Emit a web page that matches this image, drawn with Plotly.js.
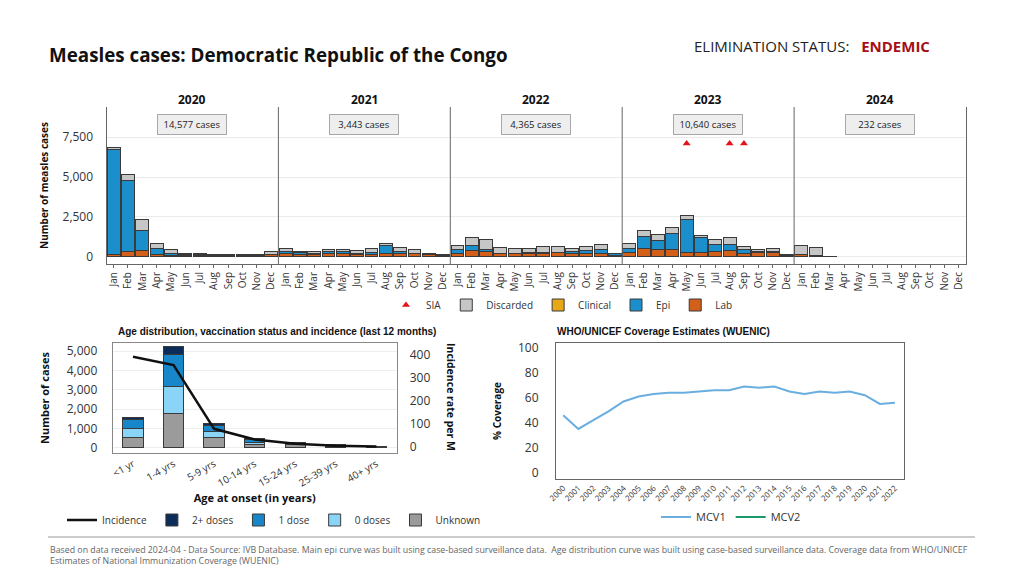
<!DOCTYPE html>
<html><head><meta charset="utf-8">
<script src="https://cdn.plot.ly/plotly-3.0.1.min.js"></script>
<style>html,body{margin:0;padding:0;background:#fff}#chart{width:1024px;height:576px}</style>
</head><body><div id="chart"></div>
<script>
// ---------- DATA ----------
const monthNames = ['Jan','Feb','Mar','Apr','May','Jun','Jul','Aug','Sep','Oct','Nov','Dec'];
const years = [2020, 2021, 2022, 2023, 2024];
const yearTotals = ['14,577 cases', '3,443 cases', '4,365 cases', '10,640 cases', '232 cases'];

const labCases = [
  150,320,380,150,100,100,100,70,70,70,80,130,
  170,150,150,170,170,150,150,170,170,170,130,100,
  230,380,320,190,170,210,230,275,210,210,210,100,
  275,530,445,445,275,275,340,400,190,255,275,80,
  140,60,32,null,null,null,null,null,null,null,null,null];
const clinicalCases = [
  0,0,0,0,0,0,0,0,0,0,0,0,
  0,0,0,0,0,0,0,0,0,0,0,0,
  0,0,0,0,0,0,0,0,0,0,0,0,
  0,0,0,0,0,0,0,0,0,0,0,0,
  0,0,0,null,null,null,null,null,null,null,null,null];
const epiCases = [
  6570,4490,1295,380,110,20,10,0,0,0,0,20,
  150,100,60,150,130,60,125,510,170,40,0,0,
  240,300,150,40,30,30,20,15,90,190,260,70,
  235,760,575,995,2055,915,445,385,280,45,20,10,
  0,0,0,null,null,null,null,null,null,null,null,null];
const discardedCases = [
  130,360,635,320,260,110,100,80,80,80,70,150,
  190,90,130,125,125,190,255,170,255,260,80,50,
  250,530,590,320,310,250,365,325,230,260,290,60,
  295,385,400,405,260,170,315,425,190,145,235,50,
  580,490,0,null,null,null,null,null,null,null,null,null];
const siaMonths = ['2023-05', '2023-08', '2023-09'];
const siaLevel = [7100, 7100, 7100];

const ageGroups = ['<1 yr','1-4 yrs','5-9 yrs','10-14 yrs','15-24 yrs','25-39 yrs','40+ yrs'];
const ageUnknown = [520,1760,550,190,140,85,40];
const ageZeroDoses = [480,1380,310,85,30,10,5];
const ageOneDose = [480,1670,295,125,105,30,10];
const ageTwoPlus = [90,400,120,50,15,15,5];
const incidencePerM = [391,355,79,33,14,6,2];

const wuenicYears = [2000,2001,2002,2003,2004,2005,2006,2007,2008,2009,2010,2011,2012,2013,2014,2015,2016,2017,2018,2019,2020,2021,2022];
const mcv1 = [46,35,42,49,57,61,63,64,64,65,66,66,69,68,69,65,63,65,64,65,62,55,56];
const mcv2 = wuenicYears.map(() => null);

// ---------- BUILD ----------
const F = 'Open Sans, Noto Sans, sans-serif';
const A = 'Liberation Sans, Arial, sans-serif';
const monthIdx = labCases.map((_, i) => i);
const monthText = monthIdx.map(i => monthNames[i % 12]);
const siaIdx = siaMonths.map(s => {
  const [y, m] = s.split('-').map(Number);
  return years.indexOf(y) * 12 + (m - 1);
});
const barLine = {color: '#3a3a3a', width: 1};

const traces = [
  {type:'bar', name:'Lab', x: monthIdx, y: labCases, width: 0.9, marker:{color:'#d2601a', line: barLine},
   xaxis:'x', yaxis:'y', legend:'legend', legendrank: 5},
  {type:'bar', name:'Clinical', x: monthIdx, y: clinicalCases, width: 0.9, marker:{color:'#e6a817', line: barLine},
   xaxis:'x', yaxis:'y', legend:'legend', legendrank: 3},
  {type:'bar', name:'Epi', x: monthIdx, y: epiCases, width: 0.9, marker:{color:'#1a8fcc', line: barLine},
   xaxis:'x', yaxis:'y', legend:'legend', legendrank: 4},
  {type:'bar', name:'Discarded', x: monthIdx, y: discardedCases, width: 0.9, marker:{color:'#c6c6c6', line: barLine},
   xaxis:'x', yaxis:'y', legend:'legend', legendrank: 2},
  {type:'scatter', mode:'markers', name:'SIA', x: siaIdx, y: siaLevel,
   marker:{symbol:'triangle-up', size:7, color:'#e3141b'}, xaxis:'x', yaxis:'y', legend:'legend', legendrank: 1},

  {type:'bar', name:'Unknown', x: ageGroups, y: ageUnknown, width: 0.5, marker:{color:'#9b9b9b', line: barLine},
   xaxis:'x2', yaxis:'y2', legend:'legend2', legendrank: 5},
  {type:'bar', name:'0 doses', x: ageGroups, y: ageZeroDoses, width: 0.5, marker:{color:'#8ad4f8', line: barLine},
   xaxis:'x2', yaxis:'y2', legend:'legend2', legendrank: 4},
  {type:'bar', name:'1 dose', x: ageGroups, y: ageOneDose, width: 0.5, marker:{color:'#1787c9', line: barLine},
   xaxis:'x2', yaxis:'y2', legend:'legend2', legendrank: 3},
  {type:'bar', name:'2+ doses', x: ageGroups, y: ageTwoPlus, width: 0.5, marker:{color:'#0c2d5a', line: barLine},
   xaxis:'x2', yaxis:'y2', legend:'legend2', legendrank: 2},
  {type:'scatter', mode:'lines', name:'Incidence', x: ageGroups, y: incidencePerM,
   line:{color:'#111', width:2.5}, xaxis:'x2', yaxis:'y3', legend:'legend2', legendrank: 1},

  {type:'scatter', mode:'lines', name:'MCV1', x: wuenicYears, y: mcv1, line:{color:'#6aaee0', width:2},
   xaxis:'x3', yaxis:'y4', legend:'legend3', legendrank: 1},
  {type:'scatter', mode:'lines', name:'MCV2', x: wuenicYears, y: mcv2, line:{color:'#1a9a6a', width:2},
   xaxis:'x3', yaxis:'y4', legend:'legend3', legendrank: 2}
];

const py = p => 1 - p / 576;
const px = p => p / 1024;

const annotations = [
  {text:'<b>Measles cases: Democratic Republic of the Congo</b>', xref:'paper', yref:'paper', x: px(47), y: py(55),
   xanchor:'left', yanchor:'middle', showarrow:false, font:{family:F, size:18.8, color:'#111'}},
  {text:'ELIMINATION STATUS:   <b><span style="color:#a50f15">ENDEMIC</span></b>', xref:'paper', yref:'paper', x: px(692), y: py(46),
   xanchor:'left', yanchor:'middle', showarrow:false, font:{family:F, size:15, color:'#222'}},
  {text:'<b>Age distribution, vaccination status and incidence (last 12 months)</b>', xref:'paper', yref:'paper',
   x: px(277), y: py(331), xanchor:'center', yanchor:'middle', showarrow:false, font:{family:A, size:10, color:'#111'}},
  {text:'<b>WHO/UNICEF Coverage Estimates (WUENIC)</b>', xref:'paper', yref:'paper',
   x: px(555), y: py(331), xanchor:'left', yanchor:'middle', showarrow:false, font:{family:A, size:10, color:'#111'}},
  {text:'<b>Incidence rate per M</b>', xref:'paper', yref:'paper', x: px(451), y: py(397), textangle: 90,
   xanchor:'center', yanchor:'middle', showarrow:false, font:{family:F, size:10.5, color:'#111'}},
  {text:'Based on data received 2024-04 - Data Source: IVB Database. Main epi curve was built using case-based surveillance data.  Age distribution curve was built using case-based surveillance data. Coverage data from WHO/UNICEF<br>Estimates of National Immunization Coverage (WUENIC)',
   xref:'paper', yref:'paper', x: px(48), y: py(555), xanchor:'left', yanchor:'middle', align:'left', showarrow:false,
   font:{family:F, size:8.8, color:'#666'}}
];
years.forEach((yr, i) => {
  annotations.push({text:'<b>' + yr + '</b>', xref:'x', yref:'paper', x: i * 12 + 5.5, y: py(99),
    xanchor:'center', yanchor:'middle', showarrow:false, font:{family:F, size:12, color:'#111'}});
  annotations.push({text: yearTotals[i], xref:'x', yref:'paper', x: i * 12 + 5.5, y: py(125),
    xanchor:'center', yanchor:'middle', showarrow:false, bgcolor:'#eeeeee', bordercolor:'#a8a8a8', borderwidth:1,
    borderpad:3, width: 62, font:{family:F, size:9.5, color:'#222'}});
});

const shapes = [];
for (let i = 1; i < years.length; i++) {
  shapes.push({type:'line', xref:'x', yref:'y domain', x0: i * 12 - 0.5, x1: i * 12 - 0.5, y0: 0, y1: 1,
    line:{color:'#666', width:1}});
}
shapes.push({type:'line', xref:'paper', yref:'paper', x0: px(48), x1: px(975), y0: py(537), y1: py(537),
  line:{color:'#999', width:1}});

const layout = {
  width: 1024, height: 576, margin:{l:0, r:0, t:0, b:0}, paper_bgcolor:'#fff', plot_bgcolor:'#fff',
  font:{family:F, color:'#333'}, barmode:'stack', showlegend:true,
  xaxis:{domain:[px(106.5), px(966)], anchor:'y', range:[-0.5, 59.5], tickvals: monthIdx, ticktext: monthText,
    tickangle:-90, tickfont:{size:10, color:'#333'}, ticks:'outside', ticklen:3, tickcolor:'#666',
    showline:true, linecolor:'#666', showgrid:false, zeroline:false, automargin:false},
  yaxis:{domain:[py(264), py(107)], anchor:'x', range:[-460, 9400], tickvals:[0,2500,5000,7500], tickformat:',',
    tickfont:{size:12, color:'#333'}, gridcolor:'#ebebeb', zeroline:false, showline:true, mirror:true, linecolor:'#666',
    ticklabelstandoff: 10, automargin:false,
    title:{text:'<b>Number of measles cases</b>', font:{size:10, color:'#111'}, standoff: 12}},

  xaxis2:{domain:[px(112.7), px(396.7)], anchor:'y2', type:'category', range:[-0.5, 6.5], tickangle:-30,
    tickfont:{size:10, color:'#333'}, showline:true, mirror:true, linecolor:'#888', showgrid:false, zeroline:false,
    automargin:false, title:{text:'<b>Age at onset (in years)</b>', font:{size:11, color:'#111'}, standoff: 3}},
  yaxis2:{domain:[py(453.3), py(342.7)], anchor:'x2', range:[-290, 5430], tickvals:[0,1000,2000,3000,4000,5000],
    tickformat:',', tickfont:{size:12, color:'#333'}, gridcolor:'#eeeeee', zeroline:false, showline:true, mirror:true,
    linecolor:'#888', ticklabelstandoff: 12, automargin:false,
    title:{text:'<b>Number of cases</b>', font:{size:11, color:'#111'}, standoff: 14}},
  yaxis3:{overlaying:'y2', side:'right', anchor:'x2', range:[-27, 452], tickvals:[0,100,200,300,400],
    tickfont:{size:12, color:'#333'}, showgrid:false, zeroline:false, showline:false, ticklabelstandoff: 12, automargin:false},

  xaxis3:{domain:[px(556), px(904)], anchor:'y4', range:[1999.52, 2022.6], tickvals: wuenicYears, tickangle:-45,
    tickfont:{size:8, color:'#333'}, showline:true, mirror:true, linecolor:'#666', showgrid:false, zeroline:false,
    automargin:false},
  yaxis4:{domain:[py(479.3), py(342.7)], anchor:'x3', range:[-5.3, 104], tickvals:[0,20,40,60,80,100],
    tickfont:{size:12, color:'#333'}, showgrid:false, zeroline:false, showline:true, mirror:true, linecolor:'#666',
    ticklabelstandoff: 14, automargin:false,
    title:{text:'<b>% Coverage</b>', font:{size:10, color:'#111'}, standoff: 14}},

  legend:{orientation:'h', x: px(386), y: py(305), xanchor:'left', yanchor:'middle', font:{size:10, color:'#333'},
    bgcolor:'rgba(0,0,0,0)', traceorder:'normal'},
  legend2:{orientation:'h', x: px(62), y: py(520), xanchor:'left', yanchor:'middle', font:{size:10, color:'#333'},
    bgcolor:'rgba(0,0,0,0)', traceorder:'normal'},
  legend3:{orientation:'h', x: px(656), y: py(517), xanchor:'left', yanchor:'middle', font:{size:11, color:'#333'},
    bgcolor:'rgba(0,0,0,0)', traceorder:'normal'},
  annotations: annotations,
  shapes: shapes
};

Plotly.newPlot('chart', traces, layout, {displayModeBar:false, staticPlot:true});
</script></body></html>
